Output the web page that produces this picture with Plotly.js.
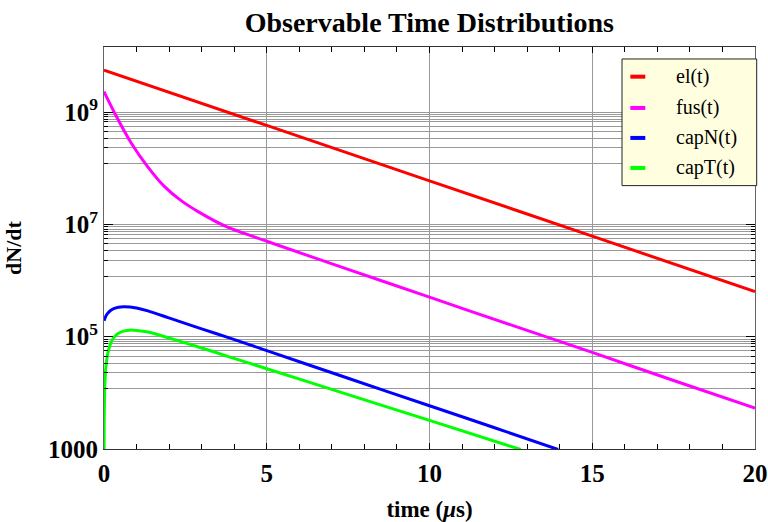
<!DOCTYPE html>
<html>
<head>
<meta charset="utf-8">
<script src="https://cdn.plot.ly/plotly-3.0.1.min.js"></script>
<style>html,body{margin:0;padding:0;background:#fff;}#chart{width:768px;height:522px;}</style>
</head>
<body>
<div id="chart"></div>
<script>
// ---- data ----
var elT   = [0, 5, 10, 15, 20];
var elY   = [5.61e9, 5.79e8, 5.98e7, 6.17e6, 6.37e5];

var fusT  = [0, 0.33, 0.84, 1.35, 1.86, 2.37, 2.89, 3.76, 5, 7.5, 10, 12.5, 15, 17.5, 20];
var fusY  = [2.32e9, 9.55e8, 2.79e8, 1.05e8, 4.71e7, 2.65e7, 1.69e7, 9.12e6, 5.01e6, 1.58e6, 5.07e5, 1.62e5, 5.25e4, 1.66e4, 5.37e3];

var capNT = [0, 0.05, 0.1, 0.2, 0.3, 0.45, 0.6, 0.8, 1.0, 1.35, 1.97, 3, 3.87, 5, 7.5, 10, 12, 13.95];
var capNY = [1.92e5, 2.28e5, 2.56e5, 2.93e5, 3.17e5, 3.36e5, 3.42e5, 3.38e5, 3.25e5, 2.88e5, 2.19e5, 1.38e5, 9.44e4, 5.66e4, 1.82e4, 5.89e3, 2.39e3, 9.8e2];

var capTT = [0, 0.005, 0.01, 0.02, 0.04, 0.06, 0.1, 0.15, 0.22, 0.3, 0.43, 0.6, 0.8, 1.0, 1.35, 1.97, 3, 3.87, 5, 7.5, 10, 12.8];
var capTY = [1.0e2, 2.6e3, 5.0e3, 1.0e4, 2.1e4, 3.0e4, 4.5e4, 6.1e4, 8.0e4, 9.6e4, 1.14e5, 1.26e5, 1.31e5, 1.29e5, 1.21e5, 9.6e4, 6.3e4, 4.34e4, 2.69e4, 9.3e3, 3.23e3, 9.8e2];

var seriesNames  = ['el(t)', 'fus(t)', 'capN(t)', 'capT(t)'];
var seriesColors = ['#ff0000', '#ff00ff', '#0000ff', '#00ff00'];

var xTickVals = [0, 5, 10, 15, 20];
var yMajorVals = [1e3, 1e5, 1e7, 1e9];
var yMajorText = ['1000', '10<sup>5</sup>', '10<sup>7</sup>', '10<sup>9</sup>'];
var gridDecades = [1e5, 1e7, 1e9];
var gridMultipliers = [1, 0.91, 0.825, 0.75, 0.67, 0.56, 0.45, 0.34, 0.23, 0.12];

// ---- build ----
var yGridVals = [];
gridDecades.forEach(function (d) {
  gridMultipliers.forEach(function (m) { yGridVals.push(d * m); });
});

var xs = [elT, fusT, capNT, capTT];
var ys = [elY, fusY, capNY, capTY];
var traces = xs.map(function (x, i) {
  return {
    x: x, y: ys[i], name: seriesNames[i], type: 'scatter', mode: 'lines',
    line: {color: seriesColors[i], width: 3, shape: 'spline', smoothing: 0.7},
    showlegend: false, hoverinfo: 'skip'
  };
});

var serif = 'Liberation Serif, Times New Roman, serif';

// legend box drawn in paper coordinates
var shapes = [{
  type: 'rect', xref: 'paper', yref: 'paper',
  x0: 0.7957, x1: 1.0026, y0: 0.6552, y1: 0.9702,
  fillcolor: '#ffffe0', line: {color: '#222', width: 1}, layer: 'above'
}];
var annotations = [];
var rowY = [0.9262, 0.8484, 0.7738, 0.6992];
seriesNames.forEach(function (n, i) {
  shapes.push({type: 'line', xref: 'paper', yref: 'paper', x0: 0.8085, x1: 0.8315,
    y0: rowY[i], y1: rowY[i], line: {color: seriesColors[i], width: 4}, layer: 'above'});
  annotations.push({xref: 'paper', yref: 'paper', x: 0.876, y: rowY[i], text: n,
    showarrow: false, xanchor: 'left', yanchor: 'middle',
    font: {family: serif, size: 20, color: '#000'}});
});

var layout = {
  width: 768, height: 522,
  margin: {l: 104, r: 13, t: 47, b: 73},
  paper_bgcolor: '#fff', plot_bgcolor: '#fff',
  showlegend: false,
  title: {text: '<b>Observable Time Distributions</b>', x: 0.559, xanchor: 'center', y: 0.958, yanchor: 'middle',
          font: {family: serif, size: 28, color: '#000'}},
  xaxis: {
    range: [0, 20], tickvals: xTickVals, ticktext: xTickVals.map(String),
    showgrid: true, gridcolor: '#999', gridwidth: 1, zeroline: false,
    ticks: 'inside', ticklen: 6, tickcolor: '#000', mirror: 'ticks',
    showline: true, linecolor: '#333', linewidth: 1,
    minor: {dtick: 1, ticks: 'inside', ticklen: 5, tickcolor: '#000', showgrid: false},
    tickfont: {family: serif, size: 25, color: '#000', weight: 'bold'},
    ticklabelstandoff: 2,
    title: {text: '<b>time (<i>μ</i>s)</b>', font: {family: serif, size: 23, color: '#000'}, standoff: 24}
  },
  yaxis: {
    type: 'log', range: [3, 10.16],
    tickvals: yMajorVals, ticktext: yMajorText,
    showgrid: true, gridcolor: '#999', gridwidth: 1, zeroline: false,
    ticks: 'inside', ticklen: 9, tickcolor: '#000', mirror: 'ticks',
    showline: true, linecolor: '#666', linewidth: 1,
    tickfont: {family: serif, size: 25, color: '#000', weight: 'bold'},
    title: {text: '<b>dN/dt</b>', font: {family: serif, size: 22, color: '#000'}, standoff: 20}
  },
  yaxis2: {
    type: 'log', range: [3, 10.16], overlaying: 'y', side: 'left',
    tickvals: yGridVals, ticks: 'inside', ticklen: 4, tickcolor: '#000', mirror: 'ticks',
    showticklabels: false, showgrid: true, gridcolor: '#999', gridwidth: 1, zeroline: false, showline: false
  },
  shapes: shapes,
  annotations: annotations
};

traces.unshift({x: [0], y: [1e3], yaxis: 'y2', type: 'scatter', mode: 'markers',
  marker: {opacity: 0}, showlegend: false, hoverinfo: 'skip'});

Plotly.newPlot('chart', traces, layout, {displayModeBar: false, staticPlot: true});
</script>
</body>
</html>
